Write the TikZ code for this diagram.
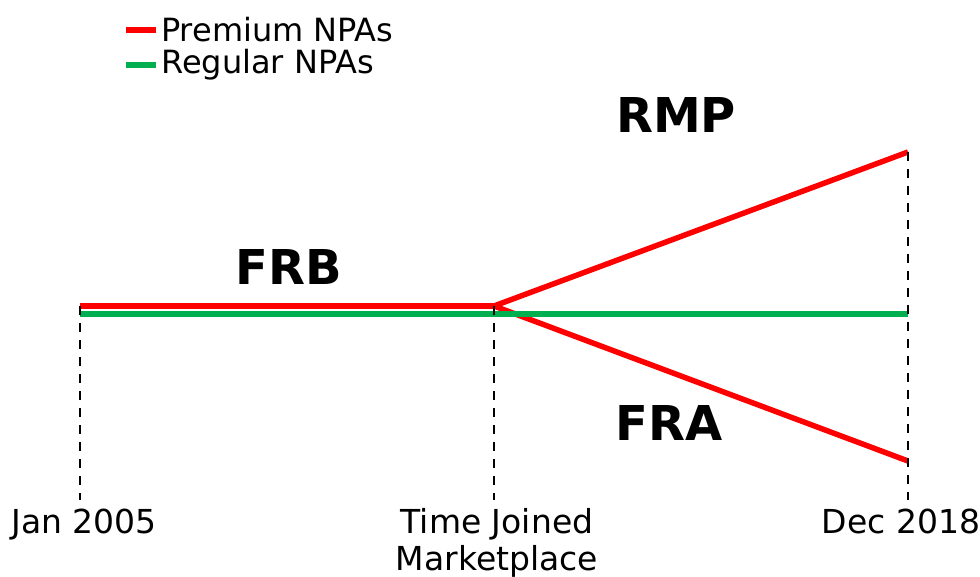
\documentclass[tikz,border=0pt]{standalone}
\usepackage{fontspec}
\setmainfont{DejaVu Sans}
\usetikzlibrary{positioning}

\definecolor{premred}{RGB}{255,0,0}
\definecolor{reggreen}{RGB}{0,176,80}

\begin{document}
\begin{tikzpicture}[x=1pt,y=-1pt,
    premium/.style={draw=premred, line width=5.5pt},
    regular/.style={draw=reggreen, line width=5.5pt},
    guide/.style={draw=black, line width=1.8pt, dash pattern=on 9pt off 8pt},
    tick/.style={font=\fontsize{33}{37}\selectfont, align=center, inner sep=0pt},
    legtext/.style={font=\fontsize{32}{36}\selectfont, anchor=west, inner sep=0pt},
    phase/.style={font=\bfseries\fontsize{48}{52}\selectfont, inner sep=0pt}
]
  \useasboundingbox (0,0) rectangle (980,577);

  % time axis points
  \coordinate (start)  at (80,306);
  \coordinate (joined) at (494,306);
  \coordinate (rmp)    at (908,152);
  \coordinate (fra)    at (908,461);
  \coordinate (gstart) at (80,314);
  \coordinate (gend)   at (908,314);

  % legend
  \coordinate (leg1a) at (126,30);
  \coordinate (leg1b) at (156,30);
  \coordinate (leg2a) at (126,65);
  \coordinate (leg2b) at (156,65);
  \draw[premium] (leg1a) -- (leg1b);
  \draw[regular] (leg2a) -- (leg2b);
  \node[legtext, right=5pt of leg1b] (legprem) {Premium NPAs};
  \node[legtext, right=5pt of leg2b] (legreg)  {Regular NPAs};

  % premium paths
  \draw[premium] (start) -- (joined);
  \draw[premium] (joined) -- (rmp);
  \draw[premium] (joined) -- (fra);
  % regular path
  \draw[regular] (gstart) -- (gend);

  % guides down to the axis labels
  \node[tick, anchor=base] (jan)  at (84,533)  {Jan 2005};
  \node[tick, anchor=base] (time) at (497,570) {Time Joined\\Marketplace};
  \node[tick, anchor=base] (dec)  at (901,533) {Dec 2018};
  \coordinate (janend)  at (80,500);
  \coordinate (timeend) at (494,500);
  \coordinate (decend)  at (908,500);
  \draw[guide] (start)  -- (janend);
  \draw[guide] (joined) -- (timeend);
  \draw[guide] (rmp)    -- (decend);

  % phase labels
  \node[phase] (frb)   at (289,267) {FRB};
  \node[phase] (rmplb) at (676,115) {RMP};
  \node[phase] (fralb) at (669,423) {FRA};
\end{tikzpicture}
\end{document}
